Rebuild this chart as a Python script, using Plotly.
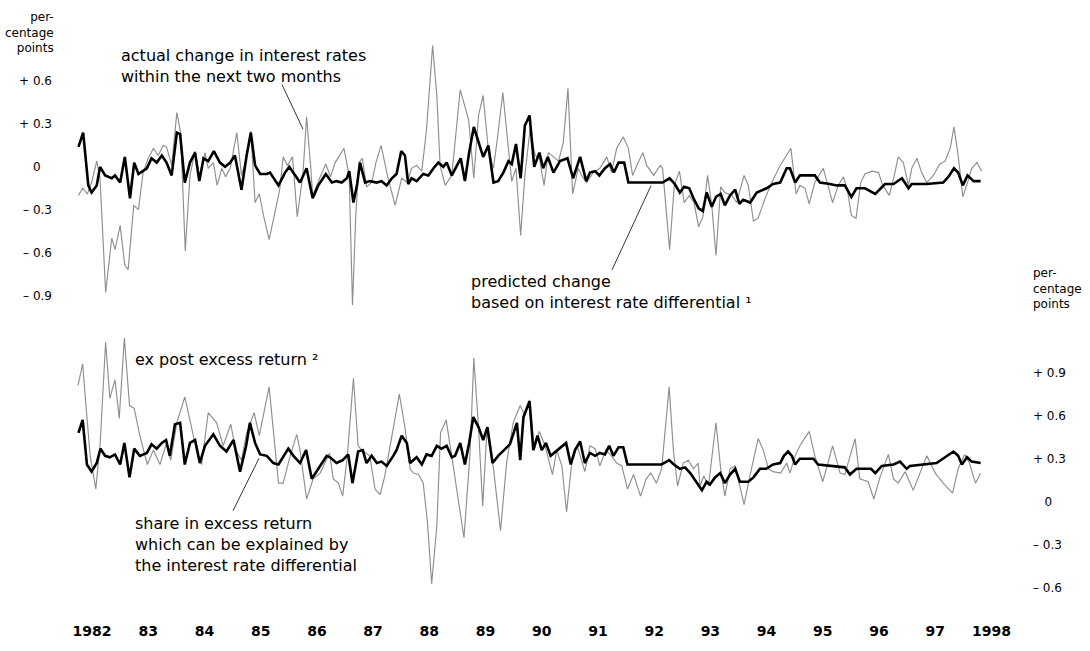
import plotly.graph_objects as go

# ---------------- data ----------------
# time: months elapsed since the first observation (spring 1982); values: percentage points
T0 = 1982.25

pred_m = [0.1,1.1,2.2,2.9,4.0,4.7,5.8,7.2,7.9,9.0,10.0,11.1,12.0,12.9,14.7,15.7,16.8,17.9,18.9,20.0,21.1,21.8,22.8,23.9,25.0,25.9,26.8,27.8,29.0,30.3,31.4,32.5,33.5,34.9,36.0,36.9,37.8,38.9,40.3,41.0,42.8,
          44.2,45.1,46.3,47.4,48.8,50.1,51.3,52.9,54.2,55.2,56.3,57.4,57.9,58.8,59.6,60.2,61.3,62.3,63.8,64.8,65.9,67.0,68.0,69.0,69.8,70.5,71.2,72.3,73.7,74.8,75.9,76.9,78.0,78.7,79.8,80.9,81.7,82.6,83.5,84.5,85.5,86.5,87.6,
          88.7,89.7,90.8,91.9,92.6,93.5,94.5,95.4,96.4,97.4,98.5,99.3,100.3,101.5,102.9,104.5,105.7,107.2,108.5,109.3,110.4,111.3,112.5,113.6,114.4,115.4,116.6,117.5,124.8,126.3,127.4,128.5,129.4,130.5,131.4,132.5,
          133.4,134.2,135.3,136.2,137.2,138.1,139.2,140.3,141.2,142.0,143.5,144.9,147.0,148.4,149.9,151.3,152.0,153.1,154.1,157.3,158.4,160.5,162.0,163.7,165.1,166.2,168.0,170.2,171.3,172.3,174.1,175.9,177.3,178.0,181.2,184.7,185.8,187.0,187.9,188.9,189.9,191.2,192.7]
pred_v = [0.14,0.24,-0.13,-0.18,-0.13,0.00,-0.06,-0.08,-0.06,-0.11,0.07,-0.22,0.03,-0.05,-0.01,0.06,0.03,0.08,0.03,-0.06,0.24,0.23,-0.11,0.03,0.10,-0.10,0.06,0.04,0.11,0.03,0.00,0.03,0.08,-0.16,0.08,0.24,0.01,-0.05,-0.05,-0.04,-0.13,
          -0.04,0.00,-0.06,-0.11,-0.01,-0.22,-0.13,-0.05,-0.11,-0.10,-0.11,-0.08,-0.03,-0.25,-0.12,0.03,-0.11,-0.10,-0.11,-0.10,-0.13,-0.08,-0.05,0.11,0.08,-0.12,-0.08,-0.10,-0.05,-0.06,-0.01,0.03,0.00,0.03,-0.06,0.01,0.06,-0.10,0.10,0.28,0.17,0.07,0.15,
          -0.11,-0.10,-0.04,0.04,0.02,0.16,-0.08,0.29,0.36,0.00,0.10,-0.01,0.07,-0.04,0.04,0.06,-0.08,0.07,-0.10,-0.04,-0.03,-0.06,-0.01,0.02,-0.04,0.03,0.03,-0.11,-0.11,-0.08,-0.12,-0.18,-0.14,-0.15,-0.22,-0.29,
          -0.31,-0.18,-0.28,-0.21,-0.19,-0.27,-0.20,-0.16,-0.26,-0.23,-0.25,-0.18,-0.15,-0.12,-0.11,-0.01,-0.01,-0.11,-0.06,-0.06,-0.11,-0.12,-0.13,-0.13,-0.21,-0.15,-0.15,-0.19,-0.15,-0.12,-0.12,-0.08,-0.15,-0.12,-0.12,-0.11,-0.07,-0.01,-0.04,-0.13,-0.06,-0.10,-0.10]

actual_m = [0.1,1.0,2.0,2.9,4.0,4.7,5.9,7.2,7.9,9.0,10.0,10.7,11.9,12.9,13.9,15.0,16.1,17.1,18.2,18.9,20.0,21.1,21.9,22.9,23.9,25.0,26.0,27.1,27.8,28.9,29.7,30.7,31.5,32.5,33.9,34.9,35.7,36.9,37.8,38.7,39.6,40.8,42.1,43.1,
            43.8,44.7,45.8,46.8,48.0,48.8,49.7,50.1,51.7,52.9,53.9,54.9,56.8,57.9,58.6,59.3,60.0,60.7,61.6,62.7,63.6,64.7,66.2,67.7,69.1,70.3,71.2,72.3,73.4,74.4,75.7,76.6,77.3,78.4,79.8,81.6,83.4,84.5,85.5,86.5,87.6,
            88.7,89.5,90.7,91.7,92.6,93.5,94.5,95.4,96.5,97.6,98.5,99.5,100.4,101.5,102.6,103.6,104.6,105.6,106.8,107.5,108.6,110.0,111.4,112.9,113.9,115.0,116.4,117.5,118.4,119.3,120.6,121.4,122.9,124.3,124.8,126.3,127.3,128.4,129.4,130.5,131.5,132.5,
            133.4,134.4,135.3,136.2,137.2,138.1,139.6,140.6,142.2,143.1,144.2,145.2,146.7,148.1,149.9,152.2,153.3,154.1,155.2,156.1,157.3,159.1,161.1,162.3,163.4,164.2,165.1,166.1,167.1,168.0,169.5,170.9,171.8,173.2,174.2,175.1,176.2,177.3,
            178.0,179.1,180.1,181.2,182.6,184.0,185.1,186.2,187.0,187.9,188.9,189.9,190.8,191.9,192.9]
actual_v = [-0.20,-0.15,-0.19,-0.11,0.04,-0.08,-0.88,-0.50,-0.58,-0.41,-0.69,-0.72,-0.27,-0.30,-0.04,0.06,0.13,0.08,0.15,0.14,0.01,0.38,0.24,-0.59,-0.06,0.11,-0.08,0.10,-0.01,0.03,-0.13,-0.01,-0.07,-0.01,0.24,-0.06,0.03,0.25,-0.25,-0.19,-0.34,-0.51,-0.31,-0.15,
            0.07,0.01,0.07,-0.35,-0.06,0.35,-0.01,-0.20,-0.07,0.02,-0.07,0.03,0.13,-0.07,-0.97,-0.34,0.03,0.06,-0.14,-0.11,0.03,0.15,-0.08,-0.27,-0.08,-0.11,-0.01,0.01,-0.03,0.26,0.85,0.50,0.01,-0.13,-0.06,0.54,0.33,-0.08,0.36,0.50,0.12,
            -0.01,0.19,0.52,0.19,-0.10,-0.01,-0.48,-0.06,0.26,0.08,0.06,-0.13,0.10,0.07,0.04,0.17,0.55,-0.19,-0.01,-0.06,-0.11,-0.04,-0.01,0.07,-0.04,0.13,0.21,0.13,-0.06,0.01,0.10,0.01,-0.06,0.01,-0.01,-0.58,-0.13,-0.03,-0.25,-0.20,-0.25,-0.42,
            -0.35,-0.06,-0.27,-0.62,-0.14,-0.18,-0.20,-0.25,-0.06,-0.13,-0.38,-0.36,-0.22,-0.11,0.01,0.13,-0.19,-0.13,-0.15,-0.26,-0.11,-0.01,-0.25,-0.13,-0.07,-0.15,-0.34,-0.36,-0.11,-0.05,-0.03,-0.04,-0.13,-0.20,-0.07,0.07,0.03,-0.13,
            -0.01,0.06,-0.04,-0.11,-0.06,0.02,0.04,0.13,0.28,0.08,-0.21,-0.11,-0.01,0.03,-0.03]

share_m = [0.1,1.0,1.9,2.9,4.0,4.8,5.8,6.8,7.9,9.0,9.9,11.0,12.0,13.2,14.7,15.7,16.8,17.9,18.8,19.6,20.7,21.8,22.8,23.9,25.0,26.0,27.1,28.9,30.3,31.7,33.2,34.6,35.9,36.7,37.8,38.9,40.3,41.7,42.8,
           44.9,46.0,47.4,48.7,49.9,51.3,53.1,53.8,55.2,56.5,57.7,58.6,59.8,60.8,61.6,62.7,63.8,64.8,65.9,67.3,68.0,69.1,70.2,70.9,72.3,73.4,74.4,75.5,76.6,77.6,78.7,79.8,80.5,81.6,82.6,83.5,84.4,85.5,86.5,87.4,
           88.5,89.7,91.2,92.2,92.9,93.7,94.4,95.1,95.8,96.4,97.2,98.1,99.0,99.9,100.9,102.0,103.3,104.2,105.2,106.1,107.2,108.2,109.3,110.4,111.4,112.5,113.4,114.3,115.4,116.4,117.3,124.6,126.2,127.2,128.5,129.6,130.7,132.1,133.2,134.2,134.9,
           136.0,137.1,138.1,139.2,140.3,141.3,143.1,144.2,145.6,146.9,148.4,149.9,150.7,151.6,152.4,153.1,154.1,157.0,158.0,160.5,163.7,164.8,166.2,169.3,170.2,171.6,174.1,175.5,176.9,177.6,181.2,183.3,185.1,186.9,187.9,188.7,189.8,190.8,192.7]
share_v = [0.48,0.57,0.26,0.21,0.27,0.37,0.32,0.31,0.33,0.26,0.41,0.17,0.37,0.32,0.34,0.40,0.37,0.41,0.43,0.32,0.54,0.55,0.26,0.41,0.43,0.27,0.39,0.47,0.39,0.35,0.43,0.21,0.39,0.55,0.41,0.33,0.32,0.27,0.26,
           0.37,0.32,0.27,0.36,0.16,0.23,0.32,0.31,0.27,0.29,0.33,0.13,0.35,0.36,0.27,0.32,0.27,0.28,0.25,0.32,0.36,0.46,0.41,0.27,0.31,0.26,0.33,0.32,0.39,0.37,0.39,0.31,0.32,0.41,0.26,0.41,0.59,0.52,0.43,0.52,
           0.27,0.32,0.37,0.40,0.47,0.55,0.29,0.59,0.65,0.70,0.36,0.46,0.36,0.41,0.32,0.35,0.39,0.41,0.26,0.36,0.42,0.27,0.34,0.32,0.34,0.33,0.39,0.32,0.38,0.38,0.26,0.26,0.29,0.26,0.23,0.24,0.20,0.13,0.08,0.14,0.12,
           0.17,0.20,0.13,0.19,0.23,0.14,0.14,0.17,0.23,0.23,0.26,0.27,0.32,0.35,0.32,0.26,0.30,0.30,0.26,0.25,0.24,0.19,0.23,0.23,0.20,0.25,0.26,0.28,0.23,0.25,0.26,0.27,0.31,0.35,0.32,0.26,0.31,0.28,0.27]

excess_m = [0.0,1.0,1.9,2.6,3.8,4.7,5.9,6.8,7.9,8.8,9.9,11.0,12.0,13.2,14.8,16.1,17.5,18.9,19.8,21.1,22.8,24.3,25.3,26.4,27.8,29.6,31.0,32.6,33.7,34.9,36.0,37.6,38.7,40.8,41.7,42.8,
            43.8,45.3,46.7,47.4,48.8,50.2,51.7,53.7,54.5,55.6,56.5,57.5,58.8,59.8,60.6,62.3,63.4,64.5,65.5,67.0,68.6,69.8,70.9,71.6,72.7,73.7,74.6,75.5,76.6,77.4,78.6,80.1,82.4,83.7,84.5,85.5,86.4,87.3,
            88.7,90.2,91.5,92.9,94.4,95.4,96.4,97.4,98.5,99.7,101.3,102.2,103.3,104.3,105.4,106.6,108.2,109.3,110.4,111.4,112.7,113.9,115.0,116.1,117.3,118.6,120.1,121.3,122.3,123.5,124.6,126.2,127.1,128.0,129.2,130.3,131.4,132.4,
            132.8,133.6,134.6,136.2,137.2,138.1,139.2,140.3,142.2,143.3,145.2,146.3,147.4,148.4,150.0,151.3,152.0,153.1,154.1,156.1,157.3,159.0,161.1,162.7,163.7,165.9,166.9,168.7,169.9,171.2,173.0,174.1,175.1,176.6,178.3,
            181.2,183.0,184.7,186.7,187.9,189.3,190.3,191.6,192.7]
excess_v = [0.81,0.96,0.59,0.32,0.09,0.39,1.11,0.72,0.85,0.58,1.14,0.67,0.65,0.46,0.26,0.36,0.26,0.41,0.29,0.55,0.73,0.50,0.36,0.26,0.62,0.55,0.39,0.54,0.36,0.29,0.48,0.62,0.46,0.80,0.50,0.13,
            0.13,0.32,0.47,0.36,0.02,0.16,0.20,0.34,0.16,0.13,0.04,0.32,0.86,0.39,0.36,0.32,0.09,0.05,0.18,0.46,0.75,0.52,0.23,0.20,0.19,0.13,-0.14,-0.57,-0.17,0.48,0.57,0.25,-0.25,0.34,1.00,0.52,-0.03,0.50,
            0.23,-0.20,0.27,0.55,0.67,0.60,0.71,0.36,0.49,0.39,0.19,0.36,0.25,-0.07,0.27,0.39,0.21,0.39,0.37,0.25,0.36,0.32,0.27,0.25,0.09,0.19,0.04,0.16,0.20,0.13,0.23,0.80,0.36,0.11,0.27,0.29,0.23,0.27,
            0.11,0.18,0.11,0.55,0.23,0.04,0.23,0.25,-0.02,0.16,0.44,0.36,0.23,0.21,0.20,0.27,0.20,0.32,0.39,0.49,0.32,0.14,0.39,0.20,0.19,0.44,0.16,0.14,0.02,0.17,0.33,0.16,0.13,0.21,0.08,
            0.32,0.20,0.13,0.06,0.23,0.33,0.27,0.13,0.20]

years = list(range(1982, 1999))
year_labels = ["1982"] + [str(y)[2:] for y in years[1:-1]] + ["1998"]
left_ticks = [0.6, 0.3, 0, -0.3, -0.6, -0.9]
left_labels = ["+ 0.6", "+ 0.3", "0\u00a0\u00a0\u00a0", "\u2013 0.3", "\u2013 0.6", "\u2013 0.9"]
right_ticks = [0.9, 0.6, 0.3, 0, -0.3, -0.6]
right_labels = ["+ 0.9", "+ 0.6", "+ 0.3", "\u00a0\u00a0\u00a00", "\u2013 0.3", "\u2013 0.6"]

# ---------------- figure ----------------
W, H = 1090, 651
ML, MR, MT, MB = 60, 65, 40, 51
PW, PH = W - ML - MR, H - MT - MB


def px(x):
    return (x - ML) / PW


def py(y):
    return (H - MB - y) / PH


def t(ms):
    return [T0 + m / 12 for m in ms]


FONT = "DejaVu Sans, Open Sans, sans-serif"
THIN = dict(color="#8f8f8f", width=1.15)
THICK = dict(color="#000000", width=2.6)

fig = go.Figure()
fig.add_trace(go.Scatter(x=t(actual_m), y=actual_v, mode="lines", line=THIN, yaxis="y"))
fig.add_trace(go.Scatter(x=t(excess_m), y=excess_v, mode="lines", line=THIN, yaxis="y2"))
fig.add_trace(go.Scatter(x=t(pred_m), y=pred_v, mode="lines", line=THICK, yaxis="y"))
fig.add_trace(go.Scatter(x=t(share_m), y=share_v, mode="lines", line=THICK, yaxis="y2"))

ppy = 56.21  # pixels per year of the original
x_lo = T0 - (78 - ML) / ppy
x_hi = T0 + (W - MR - 78) / ppy

fig.update_layout(
    width=W, height=H, margin=dict(l=ML, r=MR, t=MT, b=MB),
    paper_bgcolor="white", plot_bgcolor="white", showlegend=False,
    font=dict(family=FONT, color="black", size=12),
    xaxis=dict(range=[x_lo, x_hi], tickvals=[y + 0.5 for y in years], ticktext=year_labels,
               showgrid=False, zeroline=False, showline=False, ticks="",
               tickfont=dict(size=14, family=FONT, weight="bold"), ticklabelstandoff=26),
    yaxis=dict(range=[(H - MB - 168) / -144.0, (168 - MT) / 144.0], tickvals=left_ticks, ticktext=left_labels,
               showgrid=False, zeroline=False, showline=False, ticks="",
               tickfont=dict(size=12, family=FONT), ticklabelstandoff=7),
    yaxis2=dict(range=[(H - MB - 506) / -145.0, (506 - MT) / 145.0], tickvals=right_ticks, ticktext=right_labels,
                overlaying="y", side="right", showgrid=False, zeroline=False, showline=False, ticks="",
                tickfont=dict(size=12, family=FONT), ticklabelstandoff=7),
)

ann = []


def text(x, y, s, size=16, anchor="left", yanchor="top"):
    ann.append(dict(x=px(x), y=py(y), xref="paper", yref="paper", text=s, showarrow=False,
                    xanchor=anchor, yanchor=yanchor, align=anchor,
                    font=dict(size=size, family=FONT, color="black")))


text(56, 8, "per-<br>centage<br>points", size=12, anchor="right")
text(1031, 266, "per-<br>centage<br>points", size=12, anchor="left")

text(119, 44, "actual change in interest rates<br>within the next two months")
text(469, 272, "predicted change<br>based on interest rate differential \u00b9")
text(133, 351, "ex post excess return \u00b2")
text(133, 516, "share in excess return<br>which can be explained by<br>the interest rate differential")
fig.update_layout(annotations=ann)

for (x0, y0, x1, y1) in [(282, 85, 303, 130), (612, 272, 651, 187), (233, 515, 259, 462)]:
    fig.add_shape(type="line", xref="paper", yref="paper", x0=px(x0), y0=py(y0), x1=px(x1), y1=py(y1),
                  line=dict(color="black", width=0.8))

fig.write_html("out.html")
